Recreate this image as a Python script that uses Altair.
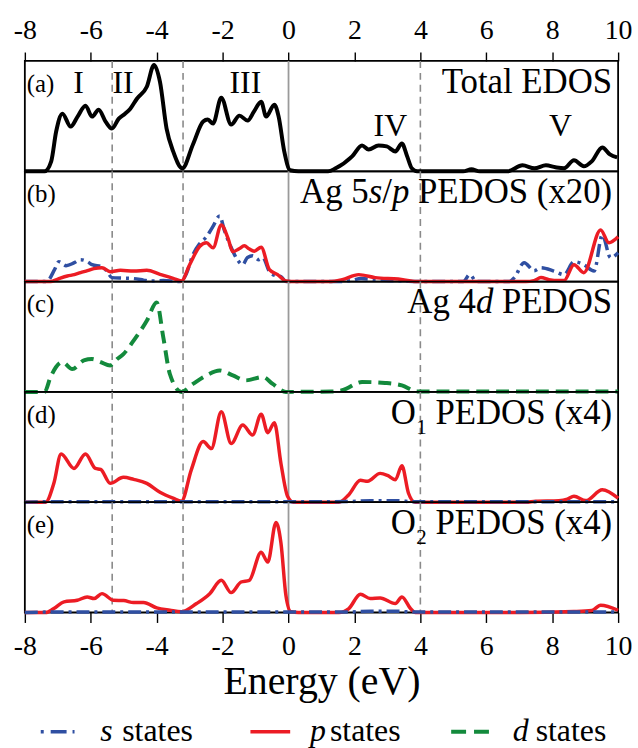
import altair as alt
import pandas as pd

FONT = "Liberation Serif"
RED, BLUE, GREEN, GRAY = "#ec1c24", "#2f4fa2", "#138a3c", "#8a8a8a"
W, H = 597, 111
YMAX = 111

# ---------------- data (energy in eV, DOS in arbitrary units) ----------------
tot_E = [-8.0, -7.4, -7.2, -7.05, -6.86, -6.61, -6.4, -6.16, -5.96, -5.76, -5.55, -5.36, -5.15, -4.96, -4.8, -4.6,
         -4.3, -4.08, -3.9, -3.7, -3.5, -3.22, -2.9, -2.59, -2.45, -2.29, -2.04, -1.74, -1.49, -1.24, -1.05, -0.83,
         -0.68, -0.43, -0.3, -0.13, 0.05, 0.3, 1.2, 1.43, 1.93, 2.23, 2.43, 2.73, 2.98, 3.24, 3.44, 3.6, 3.74, 3.9,
         5.3, 5.55, 5.8, 6.65, 7.1, 7.46, 7.81, 8.1, 8.36, 8.66, 8.96, 9.2, 9.52, 9.75, 9.97]
tot_v = [0, 0, 10, 40, 58, 45, 55, 66, 55, 62, 50, 43, 53, 58, 63, 73,
         85, 107, 90, 43, 20, 3, 27, 50, 52, 48, 74, 47, 56, 51, 60, 70,
         55, 67, 55, 20, 1, 0, 0, 3, 15, 26, 22, 26, 25, 20, 28, 15, 3, 0,
         0, 2, 0, 0, 6, 3, 6, 4, 3, 11, 5, 10, 24, 17, 14]

agsp_s_E = [-8.0, -7.4, -7.3, -7.1, -6.97, -6.75, -6.5, -6.31, -6.1, -5.96, -5.66, -5.5, -5.36, -5.0, -4.7, -4.4,
            -4.2, -3.8, -3.3, -3.1, -2.9, -2.7, -2.49, -2.3, -2.09, -1.95, -1.75, -1.55, -1.39, -1.25, -1.09, -0.9,
            -0.78, -0.58, -0.4, -0.23, -0.08, 0.2, 1.5, 1.9, 2.2, 2.6, 3.0, 3.5, 3.9, 5.3, 5.5, 5.7, 6.7, 6.85,
            7.15, 7.45, 7.66, 8.05, 8.36, 8.66, 8.96, 9.27, 9.52, 9.77, 10.0]
agsp_s_v = [0, 0, 1, 12, 20, 16, 19, 22, 20, 17, 15, 10, 4, 3.5, 3, 1.5,
            0.5, 1, 0, 8, 27, 38, 45, 55, 66, 52, 35, 22, 17, 24, 26, 22,
            24, 10, 6, 5, 0, 0, 0, 1, 3, 2, 1, 0.5, 0, 0, 7, 0, 0, 4,
            19, 11, 14, 10.6, 7, 20, 17, 10.6, 47, 24, 29]

agsp_p_E = [-8.0, -7.22, -7.0, -6.71, -6.5, -6.31, -6.1, -5.91, -5.66, -5.41, -5.1, -4.7, -4.3, -3.9, -3.5, -3.25,
            -3.0, -2.69, -2.49, -2.29, -2.04, -1.84, -1.69, -1.5, -1.34, -1.2, -1.04, -0.83, -0.58, -0.33, -0.08, 0.2,
            1.3, 1.63, 2.13, 2.63, 3.33, 3.9, 7.2, 7.45, 7.66, 7.9, 8.2, 8.36, 8.66, 8.96, 9.47, 9.72, 10.0]
agsp_p_v = [0, 0, 2.5, 5.6, 7, 9, 11, 13, 14, 10, 11.3, 10.6, 11.3, 7.3, 3.3, 0.6,
            17, 35.6, 39, 34, 57, 44, 30, 33, 36, 33, 30.6, 34.6, 12, 7, 0.6, 0,
            0, 2, 7, 4, 2.5, 0, 0, 1, 4, 2, 1, 1, 17, 9, 52, 39, 45]

ag4d_E = [-8.0, -7.4, -7.22, -6.86, -6.56, -6.21, -5.96, -5.7, -5.41, -5.2, -5.01, -4.7, -4.3, -4.0, -3.8, -3.6,
          -3.25, -2.9, -2.49, -2.09, -1.69, -1.29, -0.78, -0.48, -0.08, 1.3, 1.63, 2.23, 2.93, 3.44, 3.9, 10.0]
ag4d_v = [0, 0, 15, 30, 23, 31.6, 33, 30, 26.6, 33, 38, 51.6, 71.6, 90, 55, 18,
          0, 8, 16.6, 21.6, 16.6, 11.6, 15, 8, 0, 0.3, 1.6, 10, 9, 6.6, 0.5, 0.5]

o1_p_E = [-8.0, -7.37, -7.12, -6.9, -6.51, -6.16, -5.86, -5.7, -5.41, -5.01, -4.7, -4.3, -3.9, -3.5, -3.25, -2.95,
          -2.59, -2.34, -2.04, -1.74, -1.39, -1.09, -0.83, -0.63, -0.43, -0.23, -0.03, 0.15, 1.53, 1.83, 2.18, 2.4,
          2.78, 3.0, 3.24, 3.44, 3.64, 3.84, 7.2, 7.5, 8.2, 8.46, 8.66, 9.02, 9.52, 10.0]
o1_p_v = [0, 0, 19, 48.6, 34, 48.6, 34, 33, 19, 25, 23, 19, 10, 4, 1, 32.6,
          61, 54, 91, 59, 77.6, 67.6, 88.6, 70, 80, 39, 6, 0, 0, 7.6, 22, 21,
          29, 27, 22.6, 36.6, 9, 0, 0, 1, 1.5, 3, 6, 1.6, 12.6, 4]
o1_s_E = [-8.0, -7.4, -3.2, 0.0, 1.8, 2.5, 3.3, 3.8, 10.0]
o1_s_v = [0, 0.4, 0.4, 0.4, 0.6, 1.5, 1.5, 0.4, 0.4]

o2_p_E = [-8.0, -7.37, -7.12, -6.81, -6.41, -6.11, -5.9, -5.66, -5.31, -5.0, -4.7, -4.4, -4.0, -3.6, -3.25, -2.79,
          -2.39, -2.04, -1.74, -1.44, -1.19, -0.83, -0.63, -0.38, -0.23, -0.08, 0.07, 0.3, 1.53, 1.83, 2.18, 2.48,
          2.78, 3.24, 3.44, 3.7, 3.85, 7.0, 8.66, 9.2, 9.47, 10.0]
o2_p_v = [0, 0, 4, 10.7, 12.3, 15.7, 14, 19, 12.3, 12, 10, 10, 4.7, 2.3, 0.7, 9,
          19, 32.4, 20, 30.7, 32.4, 60.7, 50.7, 90.7, 70, 17.4, 0.7, 0, 0, 4, 18.4, 14,
          14.7, 9, 15.7, 4, 0, 0, 1, 2, 7.4, 2.3]
o2_s_E = [-8.0, -7.4, -3.2, 0.0, 1.8, 2.5, 3.3, 3.8, 10.0]
o2_s_v = [0, 0.4, 0.4, 0.4, 0.5, 1.2, 1.2, 0.4, 0.4]

dashed_lines = [-5.35, -3.2, 4.0]
fermi_line = [0.0]
tick_values = [-8, -6, -4, -2, 0, 2, 4, 6, 8, 10]

region_labels = ["I", "II", "III", "IV", "V"]
region_E = [-6.37, -5.02, -1.31, 3.09, 8.25]
region_v = [79, 79, 79, 35.3, 35.3]

# ---------------- helpers ----------------
XSCALE = alt.Scale(domain=[-8, 10], nice=False, zero=False)
YSCALE = alt.Scale(domain=[0, YMAX], nice=False, zero=False)


def xenc(axis):
    return alt.X("E:Q", scale=XSCALE, axis=axis)


def yenc():
    return alt.Y("v:Q", scale=YSCALE, axis=None)


def curve(E, v, color, width, axis, dash=None):
    kw = dict(color=color, strokeWidth=width, interpolate="monotone", strokeJoin="round", strokeCap="butt")
    if dash:
        kw["strokeDash"] = dash
    return alt.Chart(pd.DataFrame({"E": E, "v": v})).mark_line(**kw).encode(x=xenc(axis), y=yenc())


def vlines(axis):
    d = alt.Chart(pd.DataFrame({"E": dashed_lines})).mark_rule(
        color=GRAY, strokeWidth=1.6, strokeDash=[7, 5]).encode(x=xenc(axis))
    f = alt.Chart(pd.DataFrame({"E": fermi_line})).mark_rule(
        color="#9a9a9a", strokeWidth=1.8).encode(x=xenc(axis))
    return [d, f]


def txt(text, x, y, size, italic=False, align="left"):
    return alt.Chart(pd.DataFrame({"t": [text]})).mark_text(
        x=x, y=y, align=align, baseline="alphabetic", font=FONT, fontSize=size,
        fontStyle="italic" if italic else "normal", color="black").encode(text="t:N")


T = 35          # panel title size
R = 591         # right end of panel titles
TY = 32         # title baseline below panel top


def title_right(segments):
    """segments: list of (text, italic, width_px, size, dy) left->right; right aligned at R"""
    layers = []
    x = R
    for text, italic, w, size, dy in reversed(segments):
        if text.strip():
            layers.append(txt(text, x, TY + dy, size, italic, align="right"))
        x -= w
    return layers


def panel_label(s):
    return txt(s, 2, 31, 25)


NOAX = None
TOPAX = alt.Axis(orient="top", values=tick_values, labelFont=FONT, labelFontSize=28, labelColor="black",
                 tickSize=9, tickWidth=1.4, tickColor="black", labelPadding=8, domain=False, grid=False,
                 title=None, labelFlush=False, labelOverlap=False, labelExpr="datum.value + ''")
BOTAX = alt.Axis(orient="bottom", values=tick_values, labelFont=FONT, labelFontSize=28, labelColor="black",
                 tickSize=10, tickWidth=1.4, tickColor="black", labelPadding=10, domain=False, grid=False,
                 title="Energy (eV)", titleFont=FONT, titleFontSize=40, titleFontWeight="normal",
                 titleColor="black", titlePadding=1, labelFlush=False, labelOverlap=False,
                 labelExpr="datum.value + ''")

# ---------------- panels ----------------
# (a)
pa = vlines(TOPAX) + [
    curve(tot_E, tot_v, "black", 4, TOPAX),
    txt("Total EDOS", R, TY, T, align="right"),
    panel_label("(a)"),
    alt.Chart(pd.DataFrame({"E": region_E, "v": region_v, "t": region_labels})).mark_text(
        align="center", baseline="alphabetic", font=FONT, fontSize=32, color="black").encode(
        x=xenc(TOPAX), y=yenc(), text="t:N"),
]
panel_a = alt.layer(*pa).properties(width=W, height=H)

# (b)
pb = vlines(NOAX) + [
    curve(agsp_s_E, agsp_s_v, BLUE, 3.5, NOAX, dash=[13, 5, 3, 5]),
    curve(agsp_p_E, agsp_p_v, RED, 3.5, NOAX),
    panel_label("(b)"),
] + title_right([("Ag 5", False, 1.972 * T, T, 0), ("s", True, 0.389 * T, T, 0), ("/", False, 0.278 * T, T, 0),
                 ("p", True, 0.5 * T, T, 0), (" ", False, 0.25 * T, T, 0), ("PEDOS (x20)", False, 5.583 * T, T, 0)])
panel_b = alt.layer(*pb).properties(width=W, height=H)

# (c)
pc = vlines(NOAX) + [
    curve(ag4d_E, ag4d_v, GREEN, 4, NOAX, dash=[13, 7]),
    panel_label("(c)"),
] + title_right([("Ag 4", False, 1.972 * T, T, 0), ("d", True, 0.5 * T, T, 0), (" ", False, 0.25 * T, T, 0),
                 ("PEDOS", False, 3.167 * T, T, 0)])
panel_c = alt.layer(*pc).properties(width=W, height=H)

# (d)
pd_ = vlines(NOAX) + [
    curve(o1_p_E, o1_p_v, RED, 3.5, NOAX),
    curve(o1_s_E, o1_s_v, BLUE, 3.5, NOAX, dash=[13, 5, 3, 5]),
    panel_label("(d)"),
] + title_right([("O", False, 0.722 * T, T, 0), ("1", False, 11, 21, 10), (" ", False, 0.25 * T, T, 0),
                 ("PEDOS (x4)", False, 5.083 * T, T, 0)])
panel_d = alt.layer(*pd_).properties(width=W, height=H)

# (e) + legend
LY = 231
legend = [
    alt.Chart(pd.DataFrame({"k": ["s"]})).mark_rule(color=BLUE, strokeWidth=3.5, strokeDash=[3, 7, 16, 6, 3, 50]).encode(
        x=alt.value(16), x2=alt.value(50), y=alt.value(LY)),
    txt("s", 76, LY + 9, 32, italic=True),
    txt("states", 98, LY + 9, 32),
    alt.Chart(pd.DataFrame({"k": ["p"]})).mark_rule(color=RED, strokeWidth=3.5).encode(
        x=alt.value(227), x2=alt.value(267), y=alt.value(LY)),
    txt("p", 287, LY + 9, 32, italic=True),
    txt("states", 307, LY + 9, 32),
    alt.Chart(pd.DataFrame({"k": ["d"]})).mark_rule(color=GREEN, strokeWidth=4, strokeDash=[15, 8]).encode(
        x=alt.value(429), x2=alt.value(467), y=alt.value(LY)),
    txt("d", 491, LY + 9, 32, italic=True),
    txt("states", 514, LY + 9, 32),
]
pe = vlines(BOTAX) + [
    curve(o2_p_E, o2_p_v, RED, 3.5, BOTAX),
    curve(o2_s_E, o2_s_v, BLUE, 3.5, BOTAX, dash=[13, 5, 3, 5]),
    panel_label("(e)"),
] + title_right([("O", False, 0.722 * T, T, 0), ("2", False, 11, 21, 10), (" ", False, 0.25 * T, T, 0),
                 ("PEDOS (x4)", False, 5.083 * T, T, 0)]) + legend
panel_e = alt.layer(*pe).properties(width=W, height=H)

chart = alt.vconcat(panel_a, panel_b, panel_c, panel_d, panel_e, spacing=0, bounds="flush").properties(
    padding={"left": 12, "top": 13, "right": 5, "bottom": 0},
    background="white",
).configure_view(stroke="black", strokeWidth=1.8).configure_concat(spacing=0)

chart.save("out.html", embed_options={"renderer": "svg", "actions": False})
